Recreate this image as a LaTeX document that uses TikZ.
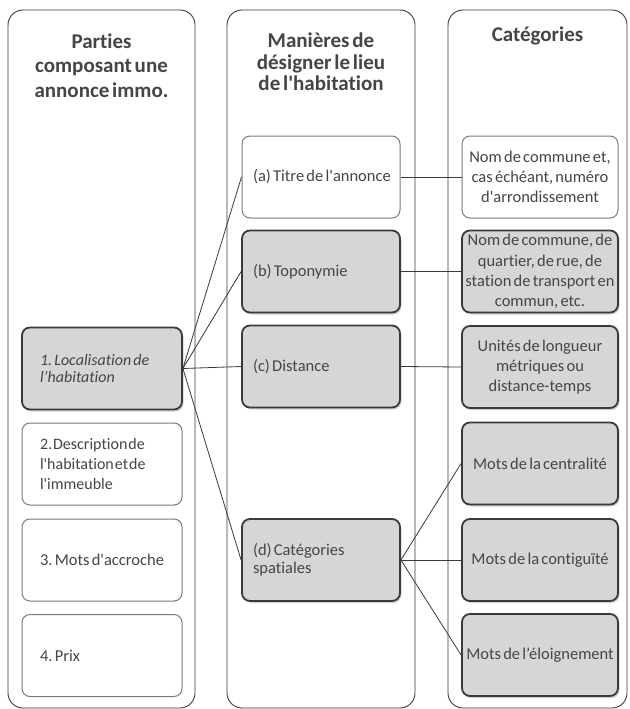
\documentclass[tikz,border=0pt]{standalone}
\usepackage{fontspec}
\setmainfont{Carlito}[WordSpace=0.6, Ligatures={TeXOff,NoCommon}]
\usetikzlibrary{shadows}
\definecolor{txt}{HTML}{454545}
\definecolor{boxfill}{HTML}{D6D6D6}
\definecolor{darkedge}{HTML}{3A3A3A}
\definecolor{lightedge}{HTML}{7A7A7A}
\frenchspacing
\tikzset{
  column/.style={draw=darkedge, line width=0.9pt, rounded corners=15pt, fill=white},
  title/.style={font=\bfseries\fontsize{21}{24.5}\selectfont, text=txt, align=center},
  whitebox/.style={draw=lightedge, line width=1pt, rounded corners=8pt, fill=white,
     text=txt, minimum height=82pt},
  graybox/.style={draw=darkedge, line width=1.8pt, rounded corners=8pt, fill=boxfill,
     text=txt, minimum height=82pt,
     drop shadow={opacity=0.35, shadow xshift=1.5pt, shadow yshift=-2pt}},
  leftw/.style={minimum width=160pt, text width=128pt, align=flush left, inner xsep=16pt,
     font=\fontsize{16.5}{19}\selectfont},
  midw/.style={minimum width=158pt, text width=142pt, align=flush left, inner xsep=8pt,
     font=\fontsize{16.5}{18}\selectfont},
  rightw/.style={minimum width=156pt, text width=156pt, align=flush center, inner xsep=0pt,
     font=\fontsize{16.5}{20.3}\selectfont},
  link/.style={draw=darkedge, line width=0.8pt}
}
\begin{document}
\begin{tikzpicture}[x=1pt, y=-1pt]
\useasboundingbox (0,0) rectangle (629,709);

% columns
\node[column, minimum width=187pt, minimum height=698pt] (colL) at (101.5,359) {};
\node[column, minimum width=188pt, minimum height=698pt] (colM) at (321,359) {};
\node[column, minimum width=179pt, minimum height=698pt] (colR) at (537.5,359) {};

% titles
\node[title] (tL) at (101.5,65.5) {Parties\\composant une\\annonce immo.};
\node[title, font=\bfseries\fontsize{21}{21.5}\selectfont] (tM) at (321,62) {Manières de\\désigner le lieu\\de l'habitation};
\node[title] (tR) at (537.5,36) {Catégories};

% left boxes
\node[graybox, leftw, font=\itshape\fontsize{16}{17.5}\selectfont] (L1) at (102,368.5) {\hspace*{2pt}1. Localisation de\\\hspace*{2pt}l’habitation};
\node[whitebox, leftw, font=\fontsize{16}{20}\selectfont] (L2) at (102,464) {\spaceskip=1pt\relax\hspace*{2pt}2. Description de\\\hspace*{2pt}l'habitation et de\\\hspace*{2pt}l'immeuble};
\node[whitebox, leftw] (L3) at (102,560) {\hspace*{2pt}3. Mots d'accroche};
\node[whitebox, leftw] (L4) at (102,655.5) {\hspace*{2pt}4. Prix};

% middle boxes
\node[whitebox, midw] (Ma) at (321,177) {\hspace*{3pt}(a) Titre de l'annonce};
\node[graybox, midw] (Mb) at (321,271.5) {\hspace*{3pt}(b) Toponymie};
\node[graybox, midw] (Mc) at (321,366.5) {\hspace*{3pt}(c) Distance};
\node[graybox, midw] (Md) at (321,560) {\hspace*{3pt}(d) Catégories\\\hspace*{3pt}spatiales};

% right boxes
\node[whitebox, rightw] (R1) at (540,177) {Nom de commune et,\\cas échéant, numéro\\d'arrondissement};
\node[graybox, rightw] (R2) at (540,271.5) {Nom de commune, de\\quartier, de rue, de\\station de transport en\\commun, etc.};
\node[graybox, rightw] (R3) at (540,367) {Unités de longueur\\métriques ou\\distance-temps};
\node[graybox, rightw] (R4) at (540,463.5) {Mots de la centralité};
\node[graybox, rightw] (R5) at (540,560) {Mots de la contiguïté};
\node[graybox, rightw] (R6) at (540,655) {Mots de l’éloignement};

% connectors
\draw[link] (L1.east) -- (Ma.west);
\draw[link] (L1.east) -- (Mb.west);
\draw[link] (L1.east) -- (Mc.west);
\draw[link] (L1.east) -- (Md.west);
\draw[link] (Ma.east) -- (R1.west);
\draw[link] (Mb.east) -- (R2.west);
\draw[link] (Mc.east) -- (R3.west);
\draw[link] (Md.east) -- (R4.west);
\draw[link] (Md.east) -- (R5.west);
\draw[link] (Md.east) -- (R6.west);
\end{tikzpicture}
\end{document}
